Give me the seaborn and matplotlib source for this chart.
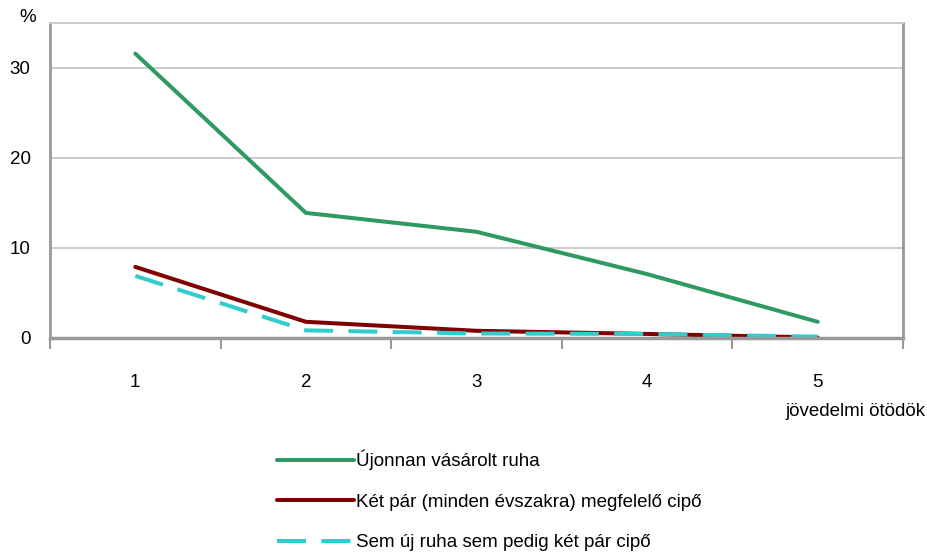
import pandas as pd
import seaborn as sns
import numpy as np
from matplotlib import pyplot as plt

# jövedelmi ötödök
quintiles = [1, 2, 3, 4, 5]
series_names = [
    "Újonnan vásárolt ruha",
    "Két pár (minden évszakra) megfelelő cipő",
    "Sem új ruha sem pedig két pár cipő",
]
new_clothes = [31.6, 13.9, 11.8, 7.1, 1.8]
two_pairs_shoes = [7.9, 1.8, 0.8, 0.45, 0.05]
neither = [6.9, 0.85, 0.5, 0.45, 0.15]

colors = ["#2E9A62", "#800000", "#33CCCC"]

df = pd.DataFrame({
    "quintile": quintiles * 3,
    "value": new_clothes + two_pairs_shoes + neither,
    "series": np.repeat(series_names, len(quintiles)),
})

sns.set_style("white")
plt.rcParams["font.family"] = ["Liberation Sans", "DejaVu Sans"]
plt.rcParams["text.color"] = "black"
plt.rcParams["xtick.color"] = "black"
plt.rcParams["ytick.color"] = "black"

FS = 13.5

fig = plt.figure(figsize=(9.28, 5.54), dpi=100)
ax = fig.add_axes([50 / 928, 1 - 338 / 554, 853 / 928, 315 / 554])

sns.lineplot(
    data=df, x="quintile", y="value", hue="series", style="series",
    palette=dict(zip(series_names, colors)),
    dashes={series_names[0]: "", series_names[1]: "", series_names[2]: (7.2, 3.8)},
    hue_order=series_names, style_order=series_names,
    linewidth=2.9, ax=ax, legend=True,
)

ax.set_xlim(0.5, 5.5)
ax.set_ylim(0, 35)
ax.set_yticks([0, 10, 20, 30])
ax.set_xticks(quintiles)
ax.set_xticks([0.5, 1.5, 2.5, 3.5, 4.5, 5.5], minor=True)
ax.tick_params(axis="x", which="major", length=0, pad=26, labelsize=FS, labelcolor="black")
ax.tick_params(axis="x", which="minor", bottom=True, length=8, width=1.5,
               color="#999999", direction="out")
ax.tick_params(axis="y", length=0, pad=14, labelsize=FS, labelcolor="black")
ax.set_xlabel("")
ax.set_ylabel("")
ax.yaxis.grid(True, color="#CCCCCC", linewidth=1.4)
ax.set_axisbelow(True)

for side in ["left", "bottom", "right"]:
    ax.spines[side].set_color("#999999")
    ax.spines[side].set_linewidth(2)
ax.spines["bottom"].set_linewidth(2.5)
ax.spines["top"].set_color("#CCCCCC")
ax.spines["top"].set_linewidth(1.4)

fig.text(28 / 928, 1 - 18 / 554, "%", ha="center", va="center", fontsize=FS)
fig.text(785 / 928, 1 - 412 / 554, "jövedelmi ötödök", ha="left", va="center", fontsize=FS)

handles, labels = ax.get_legend_handles_labels()
ax.get_legend().remove()
leg = fig.legend(
    handles, labels, loc="upper left", bbox_to_anchor=(277 / 928, 1 - 450 / 554),
    frameon=False, fontsize=FS, handlelength=4.1, handletextpad=0.12,
    labelspacing=1.24, borderpad=0, borderaxespad=0,
)

fig.savefig("out.png", dpi=100)
